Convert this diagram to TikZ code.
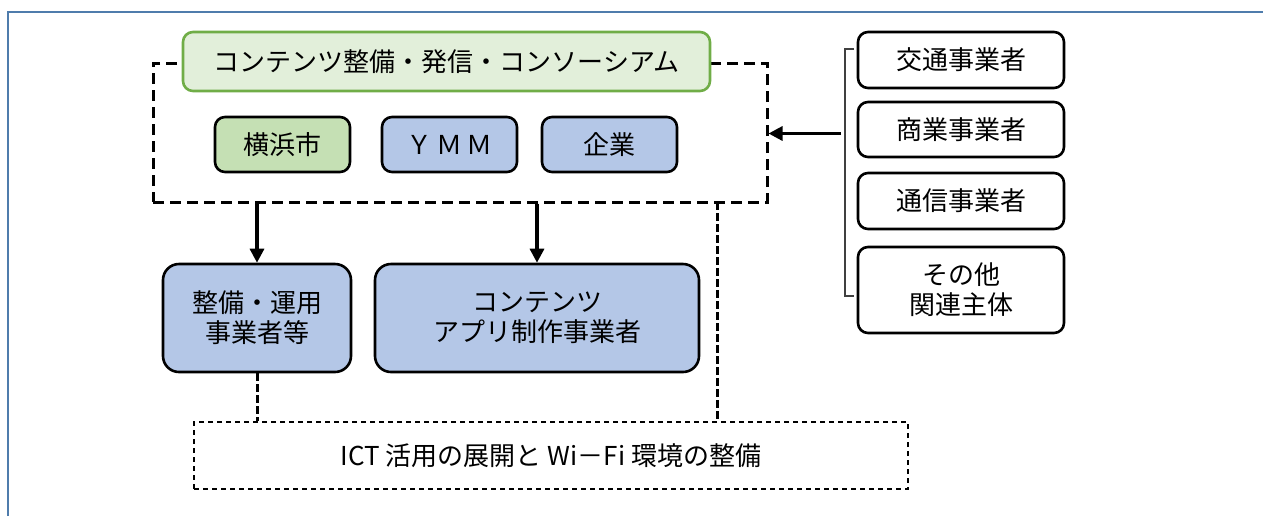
\documentclass[tikz,border=0pt]{standalone}
\usepackage{fontspec}
\setmainfont{Noto Sans CJK JP}
\usetikzlibrary{positioning,arrows.meta}
\definecolor{frameblue}{HTML}{4F7CAC}
\definecolor{headfill}{HTML}{E2EFDA}
\definecolor{headline}{HTML}{70AD47}
\definecolor{cityfill}{HTML}{C5E0B4}
\definecolor{memberfill}{HTML}{B4C7E7}
\tikzset{
  box/.style={draw, line width=1.3pt, rounded corners=5pt, align=center,
    font=\fontsize{13}{15}\selectfont, inner sep=0pt},
  member/.style={box, fill=memberfill, minimum width=67.5pt, minimum height=27.5pt},
  actor/.style={box, fill=memberfill, rounded corners=8pt, minimum height=54pt},
  partner/.style={box, fill=white, minimum width=103pt},
  bigdash/.style={line width=1.5pt, dash pattern=on 5.5pt off 3pt},
  linkdash/.style={line width=1.5pt, dash pattern=on 4pt off 1.5pt},
  arr/.style={line width=1.6pt, -{Triangle[length=7pt,width=7pt]}}
}
\begin{document}
\begin{tikzpicture}[x=0.5pt,y=-0.5pt]
\useasboundingbox (0,0) rectangle (1263,516);
% Outer frame
\draw[frameblue, line width=1.4pt] (8,516) -- (8,12) -- (1263,12);
% Consortium (dashed)
\node[bigdash, draw, minimum width=307pt, minimum height=69.5pt, inner sep=0pt] (cons) at (460,132.5) {};
\node[box, draw=headline, fill=headfill, minimum width=263.5pt, minimum height=29.5pt] (head) at (446.5,61.5) {コンテンツ整備・発信・コンソーシアム};
\node[member, fill=cityfill] (city) at (282.5,144.5) {横浜市};
\node[member] (ymm) at (449.5,144.5) {Ｙ\,Ｍ\,Ｍ};
\node[member] (firm) at (609.5,144.5) {企業};
% Operators
\node[actor, minimum width=94pt] (oper) at (257,318) {整備・運用\\事業者等};
\node[actor, minimum width=162pt] (app) at (537,318) {コンテンツ\\アプリ制作事業者};
% ICT / Wi-Fi
\node[draw, line width=0.8pt, dash pattern=on 2.5pt off 2pt, minimum width=357pt, minimum height=33.5pt,
  font=\fontsize{13}{15}\selectfont] (ict) at (551,455.5) {ICT 活用の展開と Wi－Fi 環境の整備};
% Partners
\node[partner, minimum height=28pt] (traffic) at (961,60) {交通事業者};
\node[partner, minimum height=27.5pt] (commerce) at (961,129.5) {商業事業者};
\node[partner, minimum height=28pt] (telecom) at (961,201) {通信事業者};
\node[partner, minimum height=43pt] (other) at (961,290) {その他\\関連主体};
% Bracket and arrows
\draw[black!75, line width=0.9pt] (854,49) -- (845,49) -- (845,296) -- (854,296);
\coordinate (brk) at (841,133.5);
\draw[arr] (brk) -- (cons.east |- brk);
\draw[arr] (cons.south -| oper) -- (oper.north);
\draw[arr] (cons.south -| app) -- (app.north);
\coordinate (drop) at (717,202);
\draw[linkdash] (oper.south) -- (oper.south |- ict.north);
\draw[linkdash] (drop) -- (drop |- ict.north);
\end{tikzpicture}
\end{document}
